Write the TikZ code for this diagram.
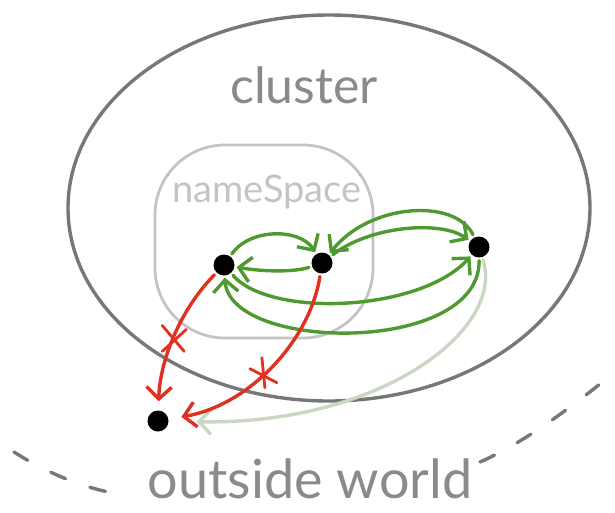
\documentclass[tikz,border=0pt]{standalone}
\usepackage{fontspec}
\setmainfont{Lato}
\usepackage{tikz}
\usetikzlibrary{arrows.meta}
\definecolor{ring}{HTML}{777777}
\definecolor{nsgray}{HTML}{C4C4C4}
\definecolor{talk}{HTML}{4E9A2E}
\definecolor{block}{HTML}{E0301E}
\definecolor{faint}{HTML}{C9D7C4}
\definecolor{label}{HTML}{8A8A8A}

\begin{document}
\begin{tikzpicture}[x=1pt,y=-1pt,
  pod/.style={circle,fill=black,inner sep=0pt,minimum size=21pt},
  link/.style={line width=3.4pt,line cap=round,shorten <=3pt,shorten >=2pt,
    -{Straight Barb[length=12pt,width=25pt,line width=3.4pt]}},
  blocked/.style={draw=block,line width=2.8pt,line cap=round}]
  \useasboundingbox (0,0) rectangle (615,512);
  % the cluster and the namespace
  \draw[ring,line width=3.4pt] (329,208) ellipse [x radius=261,y radius=193];
  \draw[nsgray,line width=2.8pt,rounded corners=70pt] (155,145) rectangle (373,338);
  \node[anchor=base,text=label,font=\fontsize{50}{50}\selectfont] (clu) at (304,103) {cluster};
  \node[anchor=base,text=nsgray,font=\fontsize{38}{38}\selectfont] (nsl) at (267,202) {nameSpace};
  % outside world
  \draw[ring,line width=3.4pt,line cap=round,dash pattern=on 16pt off 26pt] (14,452) .. controls (50,475) and (90,490) .. (120,494);
  \draw[ring,line width=3.4pt,line cap=round,dash pattern=on 16pt off 26pt] (480,462) .. controls (530,440) and (580,400) .. (615,372);
  \node[anchor=base,text=label,font=\fontsize{54}{54}\selectfont] (out) at (310,498) {outside world};
  % pods
  \node[pod] (a) at (224,265) {};
  \node[pod] (b) at (322,263) {};
  \node[pod] (c) at (479,247) {};
  \node[pod] (d) at (158,421) {};
  % allowed traffic
  \draw[link,talk] (a) .. controls (250,228) and (300,228) .. (b);
  \draw[link,talk] (b) .. controls (295,272) and (265,272) .. (a);
  \draw[link,talk] (b) .. controls (370,226) and (440,220) .. (c);
  \draw[link,talk] (c) .. controls (455,198) and (370,203) .. (b);
  \draw[link,talk] (a) .. controls (270,318) and (420,312) .. (c);
  \draw[link,talk] (c) .. controls (480,355) and (230,352) .. (a);
  \draw[link,faint,shorten >=28pt] (c) .. controls (505,330) and (380,425) .. (d);
  % blocked traffic
  \draw[link,block,shorten >=9pt] (a) .. controls (180,310) and (160,360) .. (d) coordinate[pos=.52] (xa);
  \draw[link,block,shorten >=13pt] (b) .. controls (310,340) and (250,405) .. (d) coordinate[pos=.55] (xb);
  \draw[blocked] ([shift={(-11,-14)}]xa) -- ([shift={(11,12)}]xa)
                 ([shift={(-11,12)}]xa) -- ([shift={(13,-10)}]xa);
  \draw[blocked] ([shift={(-1,-16)}]xb) -- ([shift={(2,14)}]xb)
                 ([shift={(-13,-5)}]xb) -- ([shift={(14,9)}]xb);
\end{tikzpicture}
\end{document}
